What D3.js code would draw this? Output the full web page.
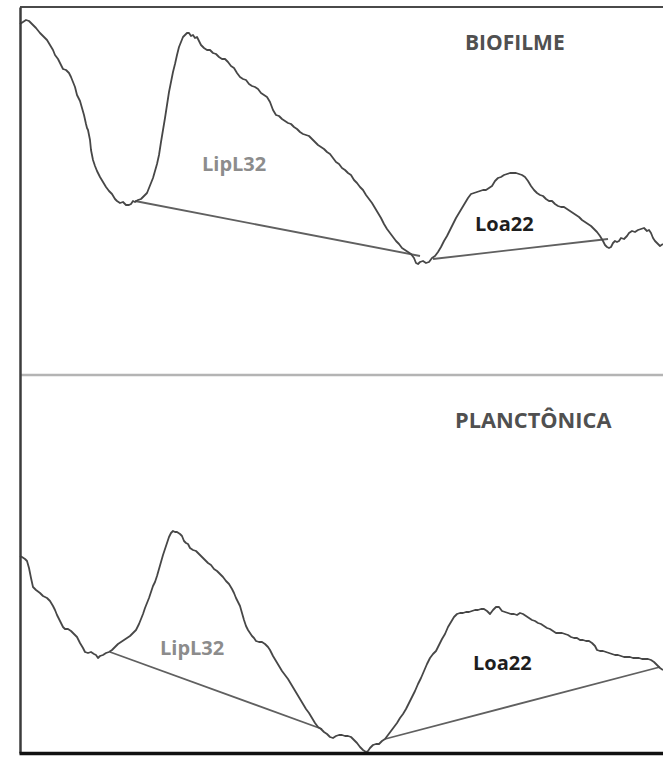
<!DOCTYPE html>
<html>
<head>
<meta charset="utf-8">
<script src="https://cdn.jsdelivr.net/npm/d3@7"></script>
<style>
  html, body { margin: 0; padding: 0; background: #fff; }
  svg { display: block; }
</style>
</head>
<body>
<svg id="chart" width="663" height="759"></svg>
<script>
// Densitometric profiles of the lanes: [position along lane, signal intensity]
const biofilmeProfile = [
  [0,351],[3,353],[6,355],[9,354],[12,351],[16,347],[20,342],[24,338],[27,335],[30,330],
  [33,325],[35,320],[38,316],[41,310],[43,306],[46,305],[49,302],[51,298],[53,293],[55,288],
  [57,280],[58,278],[60,274],[62,267],[64,260],[66,251],[67,247],[68,245],[70,235],[71,225],
  [73,215],[75,209],[77,204],[80,198],[83,193],[86,188],[89,184],[92,181],[95,176],[97,174],
  [100,172],[103,173],[106,170],[109,170],[111,171],[113,174],[115,173],[118,175],[121,176],[124,179],
  [127,182],[129,187],[131,192],[133,197],[135,204],[137,211],[139,220],[141,233],[143,245],[145,257],
  [147,270],[149,283],[151,293],[153,303],[155,311],[157,320],[159,328],[161,333],[163,338],[165,340],
  [167,342],[169,342],[171,339],[173,340],[175,337],[177,338],[179,334],[181,330],[184,327],[187,325],
  [190,325],[193,322],[196,321],[199,318],[202,316],[205,316],[208,313],[211,309],[214,307],[217,302],
  [220,298],[223,296],[226,295],[229,291],[232,289],[235,288],[238,286],[241,282],[244,280],[247,278],
  [250,273],[253,265],[256,260],[259,259],[262,256],[265,254],[268,252],[271,251],[274,248],[277,246],
  [280,243],[283,241],[286,240],[289,239],[292,236],[295,233],[298,230],[301,228],[304,226],[307,223],
  [310,221],[313,217],[316,213],[319,211],[322,207],[325,205],[328,202],[331,200],[334,195],[337,192],
  [340,188],[343,185],[346,180],[349,176],[352,172],[355,167],[358,162],[361,157],[364,151],[367,146],
  [370,142],[373,138],[376,134],[379,131],[382,127],[385,125],[388,123],[391,121],[394,117],[396,112],
  [398,111],[400,113],[403,114],[406,112],[409,113],[412,117],[415,119],[418,123],[421,128],[424,134],
  [427,139],[430,145],[433,151],[436,157],[439,162],[442,167],[445,172],[448,177],[451,181],[454,182],
  [457,183],[460,184],[463,185],[466,185],[469,187],[472,189],[475,194],[478,197],[481,198],[484,200],
  [487,201],[490,202],[493,202],[496,202],[499,201],[502,200],[505,198],[508,194],[511,189],[514,185],
  [517,182],[520,180],[523,179],[526,176],[529,174],[532,174],[535,171],[538,169],[541,168],[544,168],
  [547,166],[550,164],[553,162],[556,160],[559,158],[562,155],[565,153],[568,151],[571,149],[574,146],
  [577,143],[580,139],[583,134],[585,130],[587,128],[589,127],[591,128],[593,132],[595,134],[597,133],
  [599,134],[601,137],[604,136],[607,139],[609,142],[612,144],[615,143],[618,145],[621,146],[624,147],
  [627,144],[629,145],[631,142],[633,137],[635,134],[637,132],[640,129],[643,131]
];

const planctonicaProfile = [
  [0,197],[2,196],[5,194],[7,192],[9,185],[11,175],[13,166],[16,163],[20,160],[23,157],
  [27,155],[30,152],[33,147],[35,143],[37,138],[39,134],[41,130],[43,126],[45,124],[48,124],
  [51,122],[54,119],[57,116],[60,110],[63,105],[65,101],[68,100],[71,101],[74,99],[76,98],
  [78,95],[80,97],[83,98],[86,100],[89,101],[92,103],[95,106],[98,109],[101,111],[104,113],
  [107,115],[110,117],[113,120],[116,123],[119,129],[121,134],[123,139],[125,145],[127,150],[129,155],
  [131,161],[133,167],[135,171],[137,177],[139,184],[141,191],[143,198],[145,204],[147,210],[149,216],
  [151,220],[153,222],[155,221],[157,221],[160,219],[162,217],[164,212],[166,210],[168,209],[170,205],
  [173,203],[176,202],[179,199],[182,196],[185,193],[188,190],[191,188],[194,184],[197,182],[200,179],
  [203,176],[206,172],[209,169],[212,164],[214,160],[216,155],[218,151],[220,147],[222,140],[224,133],
  [226,127],[228,123],[230,120],[232,117],[234,115],[236,112],[239,111],[242,111],[245,109],[248,106],
  [250,103],[253,97],[256,92],[259,87],[262,82],[265,78],[268,74],[271,69],[274,64],[277,59],
  [280,54],[283,49],[286,44],[289,40],[292,35],[295,30],[298,26],[301,24],[304,21],[307,19],
  [310,16],[313,15],[316,17],[319,18],[322,18],[325,17],[328,17],[331,16],[334,13],[337,10],
  [340,6],[343,3],[346,1],[348,2],[350,5],[353,8],[356,9],[359,9],[362,12],[365,14],
  [368,18],[371,22],[374,26],[377,30],[380,35],[383,39],[386,44],[389,50],[392,56],[395,62],
  [398,69],[401,75],[404,82],[407,89],[410,95],[413,99],[416,102],[419,108],[422,114],[425,119],
  [428,126],[431,131],[434,136],[437,139],[440,140],[443,140],[446,141],[449,141],[452,142],[455,143],
  [458,143],[461,144],[464,144],[467,142],[470,139],[473,143],[476,146],[479,146],[482,142],[485,141],
  [488,140],[491,139],[494,139],[497,138],[500,140],[503,139],[506,137],[509,135],[512,133],[515,132],
  [518,130],[521,129],[524,127],[527,125],[530,124],[533,122],[536,120],[539,120],[542,120],[545,119],
  [548,118],[551,116],[554,115],[557,115],[560,113],[563,113],[566,112],[569,112],[572,110],[575,107],
  [577,103],[580,102],[583,102],[586,101],[589,100],[592,99],[595,98],[598,98],[601,97],[604,96],
  [607,96],[610,96],[613,95],[616,95],[619,95],[622,94],[625,94],[628,94],[631,93],[634,91],
  [637,88],[640,85],[643,83]
];

// Peak baselines: [start, end] as [position, intensity]
const biofilmeBaselines = [
  { band: "LipL32", from: [115, 174], to: [400, 119] },
  { band: "Loa22",  from: [413, 116], to: [588, 136] }
];
const planctonicaBaselines = [
  { band: "LipL32", from: [90, 101],  to: [302, 24] },
  { band: "Loa22",  from: [365, 14],  to: [640, 86] }
];

// Band labels: [position, intensity] of the text start
const biofilmeBandLabels = [
  { band: "LipL32", at: [182, 204] },
  { band: "Loa22",  at: [455, 144] }
];
const planctonicaBandLabels = [
  { band: "LipL32", at: [140, 98] },
  { band: "Loa22",  at: [453, 83] }
];

const panelTitles = ["BIOFILME", "PLANCTÔNICA"];
const titleAnchors = [[445, 325], [435, 325]];

const svg = d3.select("#chart");
const W = 663;

const x = d3.scaleLinear().domain([0, 643]).range([20, 663]);
const yTop = d3.scaleLinear().domain([0, 368]).range([375, 7]);
const yBot = d3.scaleLinear().domain([0, 378]).range([753, 375]);

const bandColor = { LipL32: "#8c8c8c", Loa22: "#1e1e1e" };

const panels = [
  { y: yTop, profile: biofilmeProfile, baselines: biofilmeBaselines, labels: biofilmeBandLabels, title: panelTitles[0], anchor: titleAnchors[0], titleSize: 21 },
  { y: yBot, profile: planctonicaProfile, baselines: planctonicaBaselines, labels: planctonicaBandLabels, title: panelTitles[1], anchor: titleAnchors[1], titleSize: 21.8 }
];

// Frame: top border and panel separator
const frame = svg.append("g");
frame.append("line")
  .attr("x1", x(0)).attr("x2", W)
  .attr("y1", yTop(368)).attr("y2", yTop(368))
  .attr("stroke", "#4a4a4a").attr("stroke-width", 2);
frame.append("line")
  .attr("x1", x(0)).attr("x2", W)
  .attr("y1", yTop(0)).attr("y2", yTop(0))
  .attr("stroke", "#b4b4b4").attr("stroke-width", 2.5);

panels.forEach(p => {
  const g = svg.append("g");

  const line = d3.line()
    .x(d => x(d[0]))
    .y(d => p.y(d[1]));

  g.selectAll("line.baseline")
    .data(p.baselines)
    .join("line")
    .attr("class", "baseline")
    .attr("x1", d => x(d.from[0])).attr("y1", d => p.y(d.from[1]))
    .attr("x2", d => x(d.to[0])).attr("y2", d => p.y(d.to[1]))
    .attr("stroke", "#606060")
    .attr("stroke-width", 1.8);

  g.append("path")
    .datum(p.profile)
    .attr("d", line)
    .attr("fill", "none")
    .attr("stroke", "#474747")
    .attr("stroke-width", 1.8)
    .attr("stroke-linejoin", "round");

  g.selectAll("text.band")
    .data(p.labels)
    .join("text")
    .attr("class", "band")
    .attr("x", d => x(d.at[0]))
    .attr("y", d => p.y(d.at[1]))
    .attr("font-family", "'Open Sans', sans-serif")
    .attr("font-weight", 700)
    .attr("font-size", 20)
    .attr("fill", d => bandColor[d.band])
    .text(d => d.band);

  g.append("text")
    .attr("x", x(p.anchor[0]))
    .attr("y", p.y(p.anchor[1]))
    .attr("font-family", "'Open Sans', sans-serif")
    .attr("font-weight", 700)
    .attr("font-size", p.titleSize)
    .attr("fill", "#505050")
    .text(p.title);
});

// Axes without ticks
svg.append("g")
  .attr("transform", `translate(${x(0)},0)`)
  .call(d3.axisLeft(d3.scaleLinear().domain([0, 1]).range([753, 7])).tickValues([]).tickSizeOuter(0))
  .call(g => g.select(".domain").attr("stroke", "#3c3c3c").attr("stroke-width", 2.5));
svg.append("g")
  .attr("transform", `translate(0,${yBot(0)})`)
  .call(d3.axisBottom(d3.scaleLinear().domain([0, 1]).range([x(0) - 1, W])).tickValues([]).tickSizeOuter(0))
  .call(g => g.select(".domain").attr("stroke", "#111").attr("stroke-width", 3.5));
</script>
</body>
</html>
